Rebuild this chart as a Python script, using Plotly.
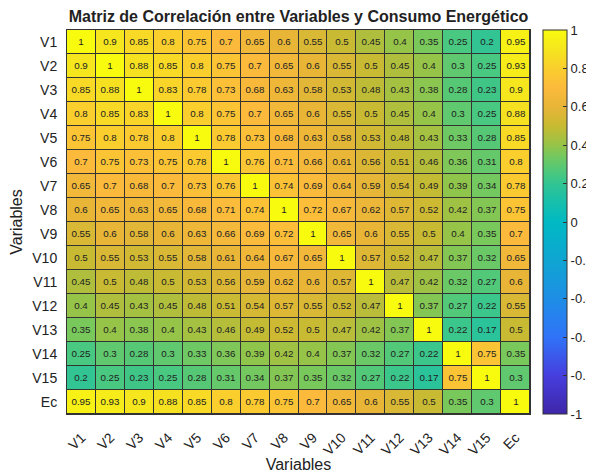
import plotly.graph_objects as go

labels = ["V1", "V2", "V3", "V4", "V5", "V6", "V7", "V8", "V9", "V10",
          "V11", "V12", "V13", "V14", "V15", "Ec"]

r_V1 = [1, .9, .85, .8, .75, .7, .65, .6, .55, .5, .45, .4, .35, .25, .2, .95]
r_V2 = [.9, 1, .88, .85, .8, .75, .7, .65, .6, .55, .5, .45, .4, .3, .25, .93]
r_V3 = [.85, .88, 1, .83, .78, .73, .68, .63, .58, .53, .48, .43, .38, .28, .23, .9]
r_V4 = [.8, .85, .83, 1, .8, .75, .7, .65, .6, .55, .5, .45, .4, .3, .25, .88]
r_V5 = [.75, .8, .78, .8, 1, .78, .73, .68, .63, .58, .53, .48, .43, .33, .28, .85]
r_V6 = [.7, .75, .73, .75, .78, 1, .76, .71, .66, .61, .56, .51, .46, .36, .31, .8]
r_V7 = [.65, .7, .68, .7, .73, .76, 1, .74, .69, .64, .59, .54, .49, .39, .34, .78]
r_V8 = [.6, .65, .63, .65, .68, .71, .74, 1, .72, .67, .62, .57, .52, .42, .37, .75]
r_V9 = [.55, .6, .58, .6, .63, .66, .69, .72, 1, .65, .6, .55, .5, .4, .35, .7]
r_V10 = [.5, .55, .53, .55, .58, .61, .64, .67, .65, 1, .57, .52, .47, .37, .32, .65]
r_V11 = [.45, .5, .48, .5, .53, .56, .59, .62, .6, .57, 1, .47, .42, .32, .27, .6]
r_V12 = [.4, .45, .43, .45, .48, .51, .54, .57, .55, .52, .47, 1, .37, .27, .22, .55]
r_V13 = [.35, .4, .38, .4, .43, .46, .49, .52, .5, .47, .42, .37, 1, .22, .17, .5]
r_V14 = [.25, .3, .28, .3, .33, .36, .39, .42, .4, .37, .32, .27, .22, 1, .75, .35]
r_V15 = [.2, .25, .23, .25, .28, .31, .34, .37, .35, .32, .27, .22, .17, .75, 1, .3]
r_Ec = [.95, .93, .9, .88, .85, .8, .78, .75, .7, .65, .6, .55, .5, .35, .3, 1]

z = [r_V1, r_V2, r_V3, r_V4, r_V5, r_V6, r_V7, r_V8, r_V9, r_V10,
     r_V11, r_V12, r_V13, r_V14, r_V15, r_Ec]
text = [[f"{v:g}" for v in row] for row in z]

parula = [
    [0.0, "rgb(62,38,168)"],
    [0.1, "rgb(70,62,222)"],
    [0.2, "rgb(48,115,248)"],
    [0.3, "rgb(30,142,230)"],
    [0.4, "rgb(15,165,210)"],
    [0.5, "rgb(0,185,195)"],
    [0.55, "rgb(22,191,172)"],
    [0.6, "rgb(50,196,146)"],
    [0.625, "rgb(72,200,128)"],
    [0.675, "rgb(120,200,92)"],
    [0.7, "rgb(150,196,72)"],
    [0.75, "rgb(200,186,50)"],
    [0.8, "rgb(232,181,55)"],
    [0.85, "rgb(252,186,60)"],
    [0.9, "rgb(250,206,45)"],
    [0.95, "rgb(245,230,30)"],
    [1.0, "rgb(249,251,14)"],
]

FONT = "Liberation Sans, Arial, Helvetica"
# page body has an 8px default margin; figure is sized/offset to compensate
W, H = 586, 465
L, T, PW, PH = 59, 22, 463, 384

fig = go.Figure(go.Heatmap(
    z=z, x=labels, y=labels, text=text, texttemplate="%{text}",
    textfont=dict(size=9.8, color="#222", family=FONT),
    zmin=-1, zmax=1, colorscale=parula, xgap=1, ygap=1,
    colorbar=dict(
        x=1 + 13 / PW, xanchor="left", xpad=0, ypad=0,
        y=0.5, len=1, lenmode="fraction", thickness=24,
        outlinewidth=1, outlinecolor="#333",
        tickvals=[-1, -0.8, -0.6, -0.4, -0.2, 0, 0.2, 0.4, 0.6, 0.8, 1],
        ticktext=["-1", "-0.8", "-0.6", "-0.4", "-0.2", "0", "0.2", "0.4", "0.6", "0.8", "1"],
        ticks="inside", ticklen=4, tickcolor="#333",
        tickfont=dict(size=13, color="#222", family=FONT),
    ),
))

fig.update_layout(
    width=W, height=H,
    margin=dict(l=L, r=W - L - PW, t=T, b=H - T - PH, autoexpand=False),
    paper_bgcolor="white", plot_bgcolor="#333",
    title=dict(text="<b>Matriz de Correlación entre Variables y Consumo Energético</b>",
               x=(L + PW / 2) / W, xanchor="center", y=1 - 8 / H, yanchor="middle",
               font=dict(size=16, color="#222", family=FONT)),
    font=dict(family=FONT, color="#222"),
)
fig.update_xaxes(
    title=dict(text="Variables", font=dict(size=16), standoff=6),
    tickangle=-45, tickfont=dict(size=14), showgrid=False, zeroline=False,
    showline=True, mirror=True, linecolor="#333", linewidth=1, ticks="",
    ticklabelstandoff=9, automargin=False,
)
fig.update_yaxes(
    title=dict(text="Variables", font=dict(size=16), standoff=6),
    autorange="reversed", tickfont=dict(size=14), showgrid=False, zeroline=False,
    showline=True, mirror=True, linecolor="#333", linewidth=1, ticks="",
    ticklabelstandoff=6, automargin=False,
)

fig.write_html("out.html")
